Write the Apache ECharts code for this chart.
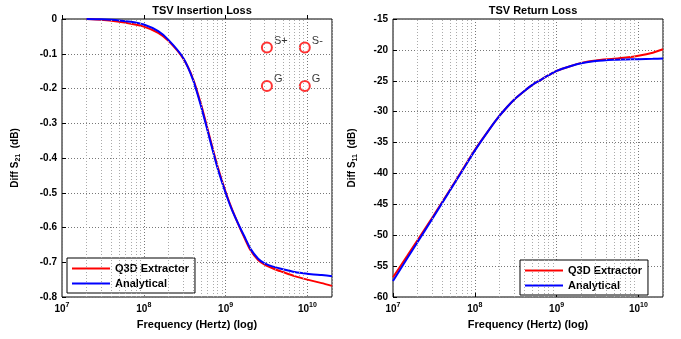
<!DOCTYPE html>
<html>
<head>
<meta charset="utf-8">
<script src="https://cdn.jsdelivr.net/npm/echarts@6/dist/echarts.min.js"></script>
<style>
    html, body { margin: 0; padding: 0; background: #fff; }
    #chart { width: 681px; height: 339px; }
</style>
</head>
<body>
<div id="chart"></div>
<script>
// insertion loss (left)
var freqS21 = [2e7, 3e7, 5e7, 7e7, 1e8, 1.5e8, 2e8, 3e8, 4e8, 5e8, 6e8, 7e8, 8e8, 1e9, 1.2e9, 1.5e9, 1.75e9, 2e9, 2.5e9, 3e9, 4e9, 5e9, 7e9, 1e10, 1.5e10, 2e10];
var s21Q3d = [0, -0.002, -0.008, -0.014, -0.022, -0.04, -0.063, -0.112, -0.172, -0.245, -0.315, -0.375, -0.425, -0.497, -0.548, -0.602, -0.636, -0.664, -0.694, -0.707, -0.72, -0.728, -0.74, -0.75, -0.76, -0.768];
var s21Analytical = [0, -0.001, -0.004, -0.008, -0.016, -0.035, -0.06, -0.11, -0.175, -0.25, -0.32, -0.38, -0.43, -0.5, -0.55, -0.6, -0.632, -0.66, -0.69, -0.703, -0.714, -0.72, -0.728, -0.733, -0.737, -0.74];

// return loss (right)
var freqS11 = [1e7, 1.5e7, 2e7, 3e7, 5e7, 7e7, 1e8, 1.5e8, 2e8, 2.5e8, 3e8, 4e8, 5e8, 6.5e8, 8e8, 1e9, 1.5e9, 2e9, 3e9, 5e9, 7e9, 1e10, 1.5e10, 2e10];
var s11Q3d = [-56.8, -53.3, -50.8, -47.2, -42.6, -39.5, -36.2, -32.9, -30.7, -29.2, -28.1, -26.7, -25.7, -24.8, -24.1, -23.4, -22.6, -22.1, -21.7, -21.45, -21.25, -20.95, -20.45, -19.9];
var s11Analytical = [-57.4, -53.7, -51.1, -47.4, -42.7, -39.6, -36.3, -32.9, -30.7, -29.2, -28.1, -26.7, -25.7, -24.8, -24.1, -23.4, -22.6, -22.15, -21.8, -21.6, -21.55, -21.5, -21.45, -21.4];

// port sketch inside left plot
var portFreq = [3.2e9, 9.3e9, 3.2e9, 9.3e9];
var portLoss = [-0.082, -0.082, -0.193, -0.193];
var portNames = ['S+', 'S-', 'G', 'G'];

var decades = [1e7, 1e8, 1e9, 1e10];
var seriesNames = ['Q3D Extractor', 'Analytical'];

var gridFreqs = [];
decades.forEach(function (d) {
    for (var k = 2; k <= 9; k++) {
        if (d * k <= 2e10) gridFreqs.push(d * k);
    }
});

function pairs(xs, ys) {
    return xs.map(function (x, i) { return [x, ys[i]]; });
}

var font = 'Liberation Sans, Arial, sans-serif';

function xAxisFor(idx) {
    return {
        type: 'log',
        gridIndex: idx,
        min: 1e7,
        max: 2e10,
        name: 'Frequency (Hertz) (log)',
        nameLocation: 'middle',
        nameGap: 22,
        nameTextStyle: { color: '#000', fontFamily: font, fontSize: 11, fontWeight: 'bold' },
        axisLine: { show: false },
        axisTick: { show: true, inside: true, length: 4, lineStyle: { color: '#000' } },
        axisLabel: {
            margin: 5,
            showMaxLabel: false,
            formatter: function (v) {
                var e = Math.log10(v);
                if (Math.abs(e - Math.round(e)) > 1e-6) return '';
                return '{b|10}{e|' + Math.round(e) + '}';
            },
            rich: {
                b: { fontFamily: font, fontSize: 10, fontWeight: 'bold', color: '#000' },
                e: { fontFamily: font, fontSize: 7, fontWeight: 'bold', color: '#000', padding: [0, 0, 7, 0] }
            }
        },
        splitLine: { show: true, lineStyle: { color: '#777', type: [1, 2] } }
    };
}

function yAxisFor(idx, min, max, step, sub, gap) {
    return {
        type: 'value',
        gridIndex: idx,
        min: min,
        max: max,
        interval: step,
        name: '{n|Diff S}{s|' + sub + '}{n|  (dB)}',
        nameLocation: 'middle',
        nameGap: gap,
        nameRotate: 90,
        nameTextStyle: {
            rich: {
                n: { fontFamily: font, fontSize: 10, fontWeight: 'bold', color: '#000' },
                s: { fontFamily: font, fontSize: 7, fontWeight: 'bold', color: '#000', padding: [6, 0, 0, 0] }
            }
        },
        axisLine: { show: false },
        axisTick: { show: true, inside: true, length: 4, lineStyle: { color: '#000' } },
        axisLabel: { margin: 5, color: '#000', fontFamily: font, fontSize: 10, fontWeight: 'bold' },
        splitLine: { show: true, lineStyle: { color: '#777', type: [1, 2] } }
    };
}

function gridLines(idx) {
    return {
        name: 'minorGrid' + idx,
        type: 'line',
        xAxisIndex: idx,
        yAxisIndex: idx,
        data: [],
        silent: true,
        z: 1,
        markLine: {
            silent: true,
            symbol: 'none',
            label: { show: false },
            lineStyle: { color: '#aaa', type: [1, 2], width: 1 },
            animation: false,
            data: gridFreqs.map(function (f) { return { xAxis: f }; })
        }
    };
}

function curve(name, idx, xs, ys, color) {
    return {
        name: name,
        type: 'line',
        xAxisIndex: idx,
        yAxisIndex: idx,
        data: pairs(xs, ys),
        smooth: 0.2,
        symbol: 'none',
        lineStyle: { color: color, width: 2 },
        itemStyle: { color: color },
        z: 3
    };
}

function legendAt(left, top) {
    return {
        data: seriesNames,
        orient: 'vertical',
        left: left,
        top: top,
        icon: 'rect',
        itemWidth: 38,
        itemHeight: 2,
        itemGap: 4,
        padding: [5, 6, 4, 5],
        backgroundColor: '#fff',
        borderColor: '#000',
        borderWidth: 1,
        borderRadius: 0,
        textStyle: { color: '#000', fontFamily: font, fontSize: 11, fontWeight: 'bold' }
    };
}

var chart = echarts.init(document.getElementById('chart'));
chart.setOption({
    animation: false,
    backgroundColor: '#fff',
    title: [
        { text: 'TSV Insertion Loss', left: 197, top: 0, textAlign: 'center',
          textStyle: { fontFamily: font, fontSize: 11, fontWeight: 'bold', color: '#000' } },
        { text: 'TSV Return Loss', left: 528, top: 0, textAlign: 'center',
          textStyle: { fontFamily: font, fontSize: 11, fontWeight: 'bold', color: '#000' } }
    ],
    legend: [legendAt(67, 258), legendAt(520, 260)],
    grid: [
        { left: 62, right: 349, top: 19, bottom: 42, show: true, borderColor: '#000', borderWidth: 1, backgroundColor: 'transparent' },
        { left: 393, right: 18, top: 19, bottom: 42, show: true, borderColor: '#000', borderWidth: 1, backgroundColor: 'transparent' }
    ],
    xAxis: [xAxisFor(0), xAxisFor(1)],
    yAxis: [yAxisFor(0, -0.8, 0, 0.1, '21', 40), yAxisFor(1, -60, -15, 5, '11', 34)],
    series: [
        gridLines(0),
        gridLines(1),
        curve('Q3D Extractor', 0, freqS21, s21Q3d, '#ff0000'),
        curve('Analytical', 0, freqS21, s21Analytical, '#0000ff'),
        curve('Q3D Extractor', 1, freqS11, s11Q3d, '#ff0000'),
        curve('Analytical', 1, freqS11, s11Analytical, '#0000ff'),
        {
            name: 'ports',
            type: 'scatter',
            xAxisIndex: 0,
            yAxisIndex: 0,
            symbol: 'circle',
            symbolSize: 10,
            itemStyle: { color: '#fff', borderColor: '#ff0000', borderWidth: 2 },
            label: {
                show: true,
                position: 'right',
                offset: [-4, -7],
                color: '#000',
                fontFamily: font,
                fontSize: 11,
                formatter: function (p) { return portNames[p.dataIndex]; }
            },
            data: pairs(portFreq, portLoss),
            z: 4
        }
    ]
});
</script>
</body>
</html>
